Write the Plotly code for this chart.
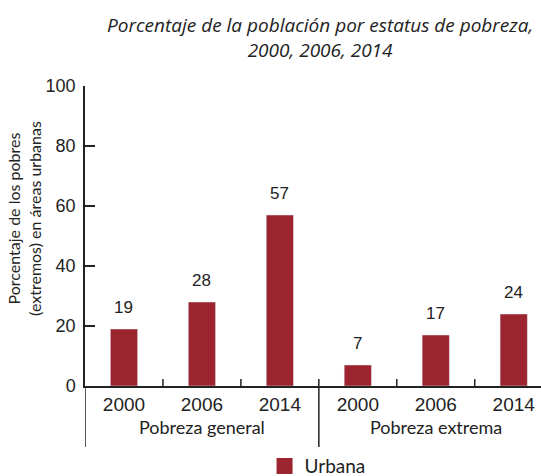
import plotly.graph_objects as go

years = ["2000", "2006", "2014", "2000", "2006", "2014"]
groups = ["Pobreza general", "Pobreza extrema"]
urbana = [19, 28, 57, 7, 17, 24]
y_ticks = [0, 20, 40, 60, 80, 100]

BAR = "#9C242E"
TXT = "#222222"
NUM_FONT = "Liberation Sans"
TXT_FONT = "Lato"

x = list(range(len(urbana)))

fig = go.Figure()
fig.add_trace(go.Bar(x=x, y=urbana, marker_color=BAR, width=0.35,
                     showlegend=False, hoverinfo="skip"))
fig.add_trace(go.Scatter(x=[None], y=[None], mode="markers", name="Urbana",
                         marker=dict(symbol="square", size=16, color=BAR)))

# value labels
for xi, v in zip(x, urbana):
    fig.add_annotation(x=xi, y=v, text=str(v), showarrow=False, yanchor="bottom",
                       yshift=10, font=dict(family=NUM_FONT, size=17, color=TXT))

# group labels
n_per = len(urbana) // len(groups)
for gi, g in enumerate(groups):
    fig.add_annotation(x=gi * n_per + (n_per - 1) / 2, xref="x", y=-0.137, yref="paper",
                       text=g, showarrow=False, yanchor="middle",
                       font=dict(family=TXT_FONT, size=18, color=TXT))

# boundary ticks between categories
for b in range(len(urbana) - 1):
    bx = b + 0.5
    if (b + 1) % n_per == 0:
        fig.add_shape(type="line", xref="x", yref="paper", x0=bx, x1=bx, y0=0.023, y1=-0.203,
                      line=dict(color=TXT, width=1.5))
    else:
        fig.add_shape(type="line", xref="x", yref="paper", x0=bx, x1=bx, y0=0, y1=0.023,
                      line=dict(color=TXT, width=1.5))
# y axis extension downwards
fig.add_shape(type="line", xref="x", yref="paper", x0=-0.5, x1=-0.5, y0=0, y1=-0.203,
              line=dict(color=TXT, width=1.5))

# title
fig.add_annotation(xref="paper", yref="paper", x=0.987, y=1.255, xanchor="right", yanchor="top",
                   align="center", showarrow=False,
                   text="<i>Porcentaje de la población por estatus de pobreza,</i><br><i>2000, 2006, 2014</i>",
                   font=dict(family="Open Sans", size=19, color=TXT))

# y axis title
fig.add_annotation(xref="paper", yref="paper", x=-0.134, y=0.56, textangle=-90,
                   xanchor="center", yanchor="middle",
                   showarrow=False, align="center",
                   text="Porcentaje de los pobres<br>(extremos) en áreas urbanas",
                   font=dict(family=TXT_FONT, size=16, color=TXT))

fig.update_layout(
    width=541, height=476,
    margin=dict(l=85, r=0, t=86, b=90, autoexpand=False),
    paper_bgcolor="white", plot_bgcolor="white",
    showlegend=True,
    legend=dict(orientation="h", x=0.51, xanchor="center", y=-0.267, yanchor="middle",
                font=dict(family=TXT_FONT, size=19, color=TXT)),
    xaxis=dict(range=[-0.5, len(urbana) - 0.65], tickmode="array", tickvals=x, ticktext=years,
               showline=True, linecolor=TXT, linewidth=1.5, ticks="", showgrid=False,
               zeroline=False, tickfont=dict(family=NUM_FONT, size=19, color=TXT)),
    yaxis=dict(range=[0, 100], tickvals=y_ticks, showline=True, linecolor=TXT, linewidth=1.5,
               ticks="inside", ticklen=10, tickcolor=TXT, tickwidth=1.5, showgrid=False,
               zeroline=False, ticklabelstandoff=4,
               tickfont=dict(family=NUM_FONT, size=18, color=TXT)),
)

fig.write_html("out.html", config={"displayModeBar": False},
               post_script="document.body.style.margin='0';document.body.style.overflow='hidden';")
